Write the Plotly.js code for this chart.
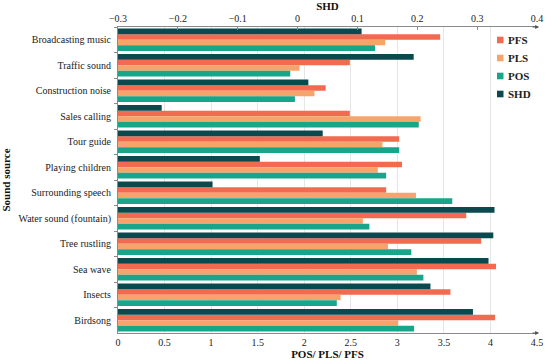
<!DOCTYPE html>
<html>
<head>
<meta charset="utf-8">
<script src="https://cdn.plot.ly/plotly-3.0.1.min.js"></script>
<style>html,body{margin:0;padding:0;background:#fff;}#chart{width:550px;height:361px;}</style>
</head>
<body>
<div id="chart"></div>
<script>
const categories = ["Broadcasting music","Traffic sound","Construction noise","Sales calling","Tour guide","Playing children","Surrounding speech","Water sound (fountain)","Tree rustling","Sea wave","Insects","Birdsong"];
const PFS = [3.46, 2.49, 2.23, 2.49, 3.02, 3.05, 2.88, 3.74, 3.90, 4.06, 3.57, 4.05];
const PLS = [2.87, 1.95, 2.11, 3.25, 2.84, 2.79, 3.20, 2.63, 2.90, 3.21, 2.39, 3.01];
const POS = [2.76, 1.85, 1.90, 3.23, 3.02, 2.88, 3.59, 2.70, 3.15, 3.28, 2.35, 3.18];
const SHD = [0.107, 0.194, 0.018, -0.227, 0.042, -0.063, -0.142, 0.329, 0.327, 0.319, 0.222, 0.293];
const legendNames = ["PFS","PLS","POS","SHD"];
const shdRange = [-0.3, 0.4];

const serif = "Liberation Serif, Times New Roman, serif";
const colors = {PFS:"#f26a4f", PLS:"#f7a46c", POS:"#17a689", SHD:"#0a4a4e"};

// SHD bars are drawn from the left edge of the SHD axis (its minimum) to each value
const shdBase = shdRange[0];
const shdLen = SHD.map(v => v - shdBase);

const defs = [
  {name:"SHD", x:shdLen, base:shdBase, xaxis:"x2", text:SHD},
  {name:"PFS", x:PFS, xaxis:"x", text:PFS},
  {name:"PLS", x:PLS, xaxis:"x", text:PLS},
  {name:"POS", x:POS, xaxis:"x", text:POS}
];
const traces = defs.map((t,i)=>{
  const tr = {
    type:"bar", orientation:"h", name:t.name, x:t.x, y:categories, xaxis:t.xaxis, yaxis:"y",
    marker:{color:colors[t.name]}, alignmentgroup:"g", offsetgroup:"o"+i, showlegend:false,
    hovertext:t.text.map(String), hoverinfo:"text+y+name", textposition:"none"
  };
  if (t.base !== undefined) tr.base = t.base;
  return tr;
});

// Custom compact legend (small squares + bold labels), positioned in paper coords
const M = {l:118, r:13, t:27, b:28}, W = 550, H = 361;
const pw = W - M.l - M.r, ph = H - M.t - M.b;
const px = v => (v - M.l) / pw;
const py = v => (H - M.b - v) / ph;
const legShapes = [], legAnn = [];
legendNames.forEach((n, i) => {
  const cy = 40 + i * 18;
  legShapes.push({type:"rect", xref:"paper", yref:"paper", x0:px(497), x1:px(503.5), y0:py(cy+3.3), y1:py(cy-3.3),
                  fillcolor:colors[n], line:{width:0}});
  legAnn.push({xref:"paper", yref:"paper", x:px(505.5), y:py(cy), xanchor:"left", yanchor:"middle",
               text:"<b>"+n+"</b>", showarrow:false, font:{family:serif, size:11, color:"#222"}});
});

const layout = {
  width:W, height:H,
  margin:{l:M.l, r:M.r, t:M.t, b:M.b, autoexpand:false},
  paper_bgcolor:"#fff", plot_bgcolor:"#fff",
  barmode:"group", bargap:0.12, bargroupgap:0,
  font:{family:serif, size:10, color:"#222"},
  showlegend:false,
  xaxis:{range:[0,4.5], dtick:0.5, showgrid:true, gridcolor:"#e6e6e6", gridwidth:1,
         showline:true, linecolor:"#8a8a8a", linewidth:1, ticks:"", zeroline:false,
         tickfont:{family:serif, size:10, color:"#222"}, automargin:false,
         title:{text:"<b>POS/ PLS/ PFS</b>", font:{family:serif, size:11, color:"#111"}, standoff:1}},
  xaxis2:{range:shdRange, dtick:0.1, overlaying:"x", side:"top", showgrid:false,
          showline:true, linecolor:"#8a8a8a", linewidth:1, ticks:"inside", ticklen:3, tickcolor:"#8a8a8a",
          zeroline:false, tickfont:{family:serif, size:10, color:"#222"}, automargin:false,
          title:{text:"<b>SHD</b>", font:{family:serif, size:11, color:"#111"}, standoff:0}},
  yaxis:{type:"category", autorange:"reversed", showline:true, linecolor:"#8a8a8a", linewidth:1,
         ticks:"outside", ticklen:3, tickcolor:"#8a8a8a", tickson:"boundaries", showgrid:false,
         tickfont:{family:serif, size:10, color:"#222"}, ticklabelstandoff:4, automargin:false,
         title:{text:"<b>Sound source</b>", font:{family:serif, size:11, color:"#111"}, standoff:8}},
  shapes:legShapes,
  annotations:[
    {xref:"paper", yref:"paper", x:1.005, y:0, ax:-8, ay:0, text:"", showarrow:true, arrowhead:2, arrowsize:0.8, arrowwidth:1, arrowcolor:"#555"},
    {xref:"paper", yref:"paper", x:1.005, y:1, ax:-8, ay:0, text:"", showarrow:true, arrowhead:2, arrowsize:0.8, arrowwidth:1, arrowcolor:"#555"}
  ].concat(legAnn)
};

Plotly.newPlot("chart", traces, layout, {displayModeBar:false, staticPlot:true});
</script>
</body>
</html>
